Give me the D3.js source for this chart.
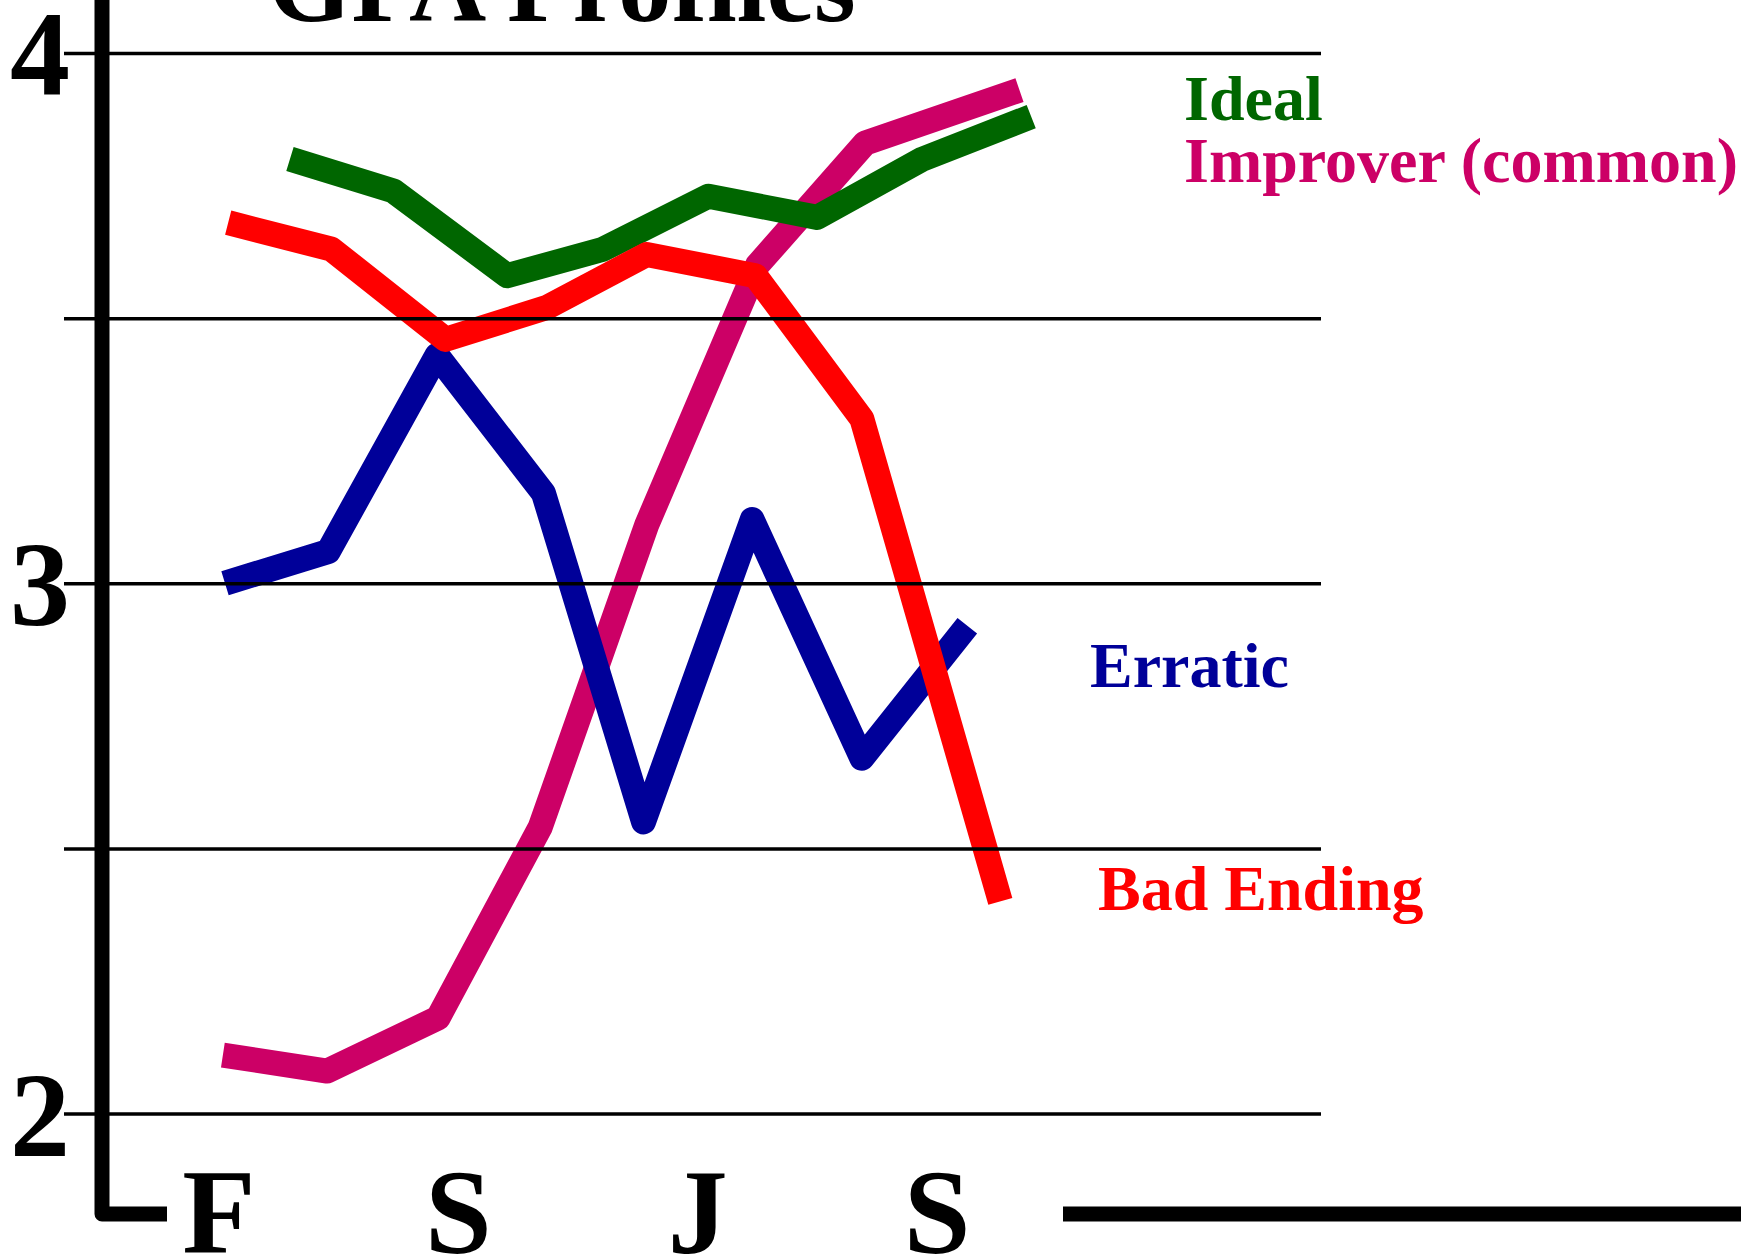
<!DOCTYPE html>
<html>
<head>
<meta charset="utf-8">
<script src="https://cdn.jsdelivr.net/npm/d3@7"></script>
<style>
  body { margin: 0; background: #fff; }
  svg { display: block; }
  text { font-family: "Liberation Serif", "Times New Roman", serif; font-weight: bold; }
</style>
</head>
<body>
<svg></svg>
<script>
//////////data (semester index, GPA)////////////
var idealX = [0.61, 1.58, 2.65, 3.55, 4.54, 5.56, 6.55, 7.57];
var idealGpa = [3.80, 3.74, 3.58, 3.63, 3.73, 3.69, 3.80, 3.88];
var improverX = [-0.02, 0.96, 2.0, 2.96, 3.96, 5.0, 6.01, 7.46];
var improverGpa = [2.11, 2.08, 2.18, 2.54, 3.11, 3.60, 3.83, 3.93];
var erraticX = [0, 0.97, 1.99, 2.99, 3.93, 4.95, 5.98, 6.97];
var erraticGpa = [3.00, 3.06, 3.43, 3.17, 2.55, 3.12, 2.67, 2.92];
var badX = [0.03, 1.0, 2.07, 3.02, 3.96, 4.98, 5.98, 7.28];
var badGpa = [3.68, 3.63, 3.46, 3.52, 3.62, 3.58, 3.31, 2.40];

var gpaTicks = [2, 2.5, 3, 3.5, 4];
var gpaLabels = ["2", "", "3", "", "4"];
var yearLabels = ["F", "S", "J", "S"];
var seriesNames = ["Improver (common)", "Erratic", "Ideal", "Bad Ending"];
var seriesColors = ["#cc0066", "#000099", "#006600", "#ff0000"];
var title = "GPA Profiles";

var screen = {
  width: 1741,
  height: 1259
}

var svg = d3.select("svg")
            .attr("width", screen.width)
            .attr("height", screen.height)

//////////scales///////////
var x = d3.scaleLinear()
          .domain([0, 7])
          .range([225, 970.5]);

var y = d3.scaleLinear()
          .domain([2, 4])
          .range([1113.5, 53]);

var yearX = d3.scaleLinear()
              .domain([0, yearLabels.length - 1])
              .range([219, 937]);

//////////lines (drawn under the grid)///////////
var series = [
  {xs: improverX, ys: improverGpa},
  {xs: erraticX, ys: erraticGpa},
  {xs: idealX, ys: idealGpa},
  {xs: badX, ys: badGpa}
];

var line = d3.line()
             .x(function(d){ return x(d[0]); })
             .y(function(d){ return y(d[1]); });

svg.append("g")
   .attr("id", "profiles")
   .selectAll("path")
   .data(series)
   .enter()
   .append("path")
   .attr("d", function(d){ return line(d3.zip(d.xs, d.ys)); })
   .attr("fill", "none")
   .attr("stroke", function(d, i){ return seriesColors[i]; })
   .attr("stroke-width", 25)
   .attr("stroke-linejoin", "round")
   .attr("stroke-linecap", "butt");

//////////grid///////////
var grid = svg.append("g")
              .attr("transform", "translate(64,0)")
              .call(d3.axisRight(y)
                      .tickValues(gpaTicks)
                      .tickSize(1257)
                      .tickFormat(""));
grid.select(".domain").remove();
grid.selectAll(".tick line")
    .attr("stroke", "#000")
    .attr("stroke-width", 3.5);

//////////axes///////////
svg.append("path")
   .attr("d", "M102,-20V1214H167")
   .attr("fill", "none")
   .attr("stroke", "#000")
   .attr("stroke-width", 15)
   .attr("stroke-linejoin", "round");

svg.append("line")
   .attr("x1", 1063)
   .attr("x2", 1760)
   .attr("y1", 1214)
   .attr("y2", 1214)
   .attr("stroke", "#000")
   .attr("stroke-width", 15);

svg.append("g")
   .selectAll("text")
   .data(gpaTicks)
   .enter()
   .append("text")
   .attr("x", 40)
   .attr("y", function(d){ return y(d); })
   .attr("dy", "0.35em")
   .attr("text-anchor", "middle")
   .attr("font-size", 120)
   .text(function(d, i){ return gpaLabels[i]; });

svg.append("g")
   .selectAll("text")
   .data(yearLabels)
   .enter()
   .append("text")
   .attr("x", function(d, i){ return yearX(i); })
   .attr("y", 1253)
   .attr("text-anchor", "middle")
   .attr("font-size", 120)
   .text(function(d){ return d; });

//////////title & labels///////////
svg.append("text")
   .attr("x", 562)
   .attr("y", 21)
   .attr("text-anchor", "middle")
   .attr("font-size", 107)
   .text(title);

var labelPos = [[1184, 182], [1090, 687], [1184, 120], [1098, 910]];

svg.append("g")
   .selectAll("text")
   .data(seriesNames)
   .enter()
   .append("text")
   .attr("x", function(d, i){ return labelPos[i][0]; })
   .attr("y", function(d, i){ return labelPos[i][1]; })
   .attr("font-size", 64)
   .attr("fill", function(d, i){ return seriesColors[i]; })
   .text(function(d){ return d; });
</script>
</body>
</html>
